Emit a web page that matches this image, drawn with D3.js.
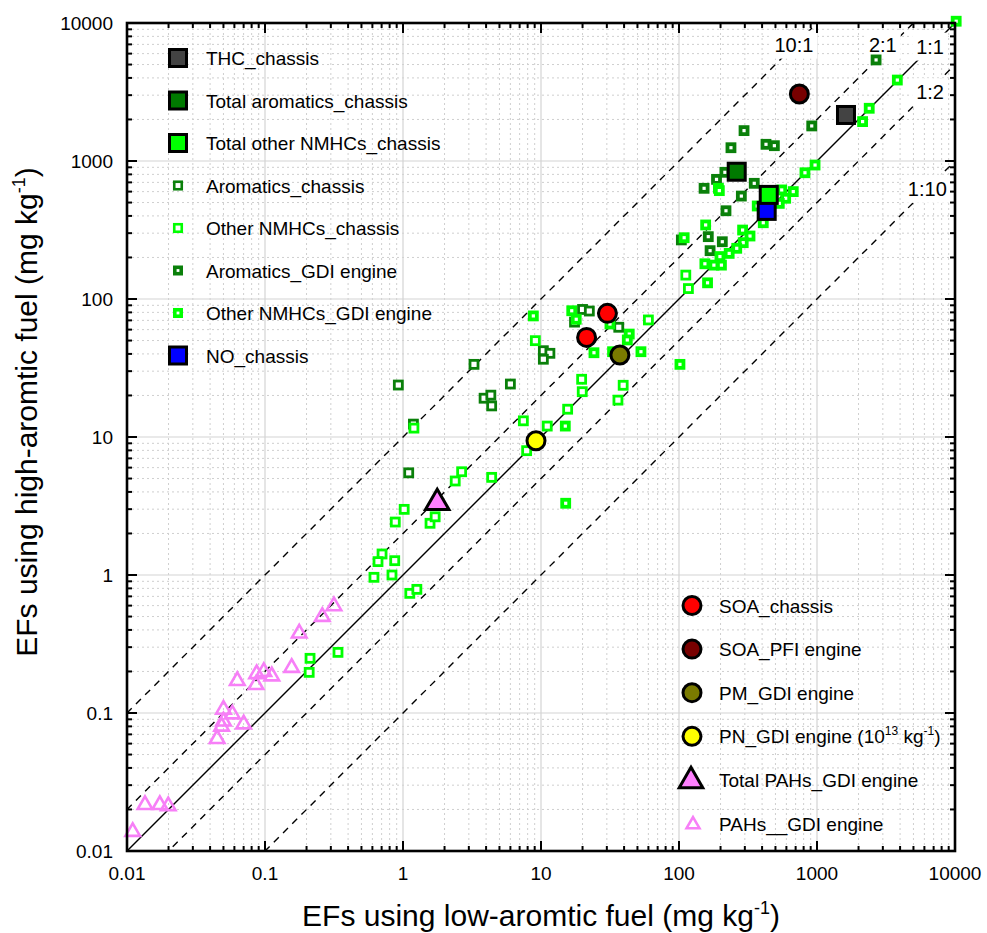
<!DOCTYPE html>
<html>
<head>
<meta charset="utf-8">
<script src="https://cdn.jsdelivr.net/npm/d3@7"></script>
<style>
  body { margin: 0; background: #fff; }
  text { font-family: "Liberation Sans", Arial, sans-serif; fill: #000; }
</style>
</head>
<body>
<div id="chart"></div>
<script>
// tick labels
var tickValues = [0.01, 0.1, 1, 10, 100, 1000, 10000];
var tickLabels = ["0.01", "0.1", "1", "10", "100", "1000", "10000"];

// EFs [low-aromatic, high-aromatic] (mg/kg)
var thcChassis = [[1622, 2155]];
var totalAromaticsChassis = [[262, 836]];
var totalOtherChassis = [[447, 568]];
var noChassis = [[432, 435]];
var aromaticsChassis = [[20, 84], [22.4, 81.8], [17.5, 68], [36.6, 62.4], [10.4, 42.2], [11.6, 40.4], [10.4, 36.6],
    [3.27, 33.6], [0.925, 23.8], [6.0, 24.2], [3.87, 19.1], [4.33, 20.1], [4.39, 16.8], [1.19, 12.4], [1.1, 5.5]];
var otherChassis = [[112, 149], [117, 119], [9.1, 49.9], [60, 70.5], [19.7, 26.2], [19.9, 21.3], [39.4, 23.7],
    [36.1, 18.5], [15.6, 15.9], [11.1, 12.0], [7.45, 13.1], [7.87, 7.96], [2.66, 5.6], [2.39, 4.8], [4.39, 5.1],
    [1.2, 11.6], [1.02, 2.99], [0.879, 2.42], [1.57, 2.37], [1.71, 2.64], [0.705, 1.42], [0.659, 1.25],
    [0.871, 1.27], [0.616, 0.962], [0.832, 1.0], [1.12, 0.736], [1.26, 0.787], [0.338, 0.275], [0.212, 0.249],
    [0.209, 0.197]];
var aromaticsGDI = [[2680, 5400], [916, 1795], [296, 1660], [238, 1248], [427, 1321], [491, 1291], [215, 828],
    [187, 736], [152, 634], [351, 689], [283, 557], [219, 436], [104, 268], [163, 283], [206, 260], [168, 224]];
var otherGDI = [[10200, 10300], [3820, 3860], [2390, 2410], [2140, 1930], [968, 935], [818, 822], [193, 634],
    [196, 610], [555, 617], [673, 600], [593, 537], [533, 493], [369, 472], [408, 357], [156, 344], [109, 278],
    [289, 316], [327, 286], [292, 256], [262, 233], [231, 214], [198, 203], [154, 180], [179, 176], [203, 176],
    [161, 131], [8.8, 75.4], [16.7, 82.2], [18, 71.3], [31.6, 65.9], [43.6, 55.7], [42.2, 50.5], [24.2, 40.8],
    [53, 41.5], [33, 41.5], [101.6, 33.6], [15, 12.0], [15.1, 3.31]];
var soaChassis = [[30.3, 78.7], [21.4, 52.7]];
var soaPFI = [[745, 3060]];
var pmGDI = [[37.3, 39.3]];
var pnGDI = [[9.2, 9.4]];
var totalPAHsGDI = [[1.77, 3.34]];
var pahsGDI = [[0.316, 0.596], [0.260, 0.499], [0.177, 0.378], [0.156, 0.213], [0.098, 0.199], [0.087, 0.192],
    [0.112, 0.185], [0.063, 0.171], [0.086, 0.160], [0.050, 0.106], [0.058, 0.098], [0.070, 0.083],
    [0.050, 0.087], [0.0485, 0.080], [0.045, 0.065], [0.0135, 0.0216], [0.0173, 0.0216], [0.0199, 0.0212],
    [0.011, 0.0138]];

// ratio lines (high / low) and their labels
var ratios = [10, 2, 1, 0.5, 0.1];
var ratioLabels = [
    {text: "10:1", x: 680, y: 6200},
    {text: "2:1", x: 3000, y: 6200},
    {text: "1:1", x: 6600, y: 6000},
    {text: "1:2", x: 6600, y: 2800},
    {text: "1:10", x: 6300, y: 560}
];

var legendLeft = ["THC_chassis", "Total aromatics_chassis", "Total other NMHCs_chassis", "Aromatics_chassis",
    "Other NMHCs_chassis", "Aromatics_GDI engine", "Other NMHCs_GDI engine", "NO_chassis"];
var legendRight = ["SOA_chassis", "SOA_PFI engine", "PM_GDI engine", "PN_GDI engine", "Total PAHs_GDI engine",
    "PAHs__GDI engine"];

var width = 987, height = 933;
var plotLeft = 127, plotRight = 955, plotTop = 23, plotBottom = 851;

var x = d3.scaleLog().domain([0.01, 10000]).range([plotLeft, plotRight]);
var y = d3.scaleLog().domain([0.01, 10000]).range([plotBottom, plotTop]);

var svg = d3.select("#chart").append("svg")
    .attr("width", width)
    .attr("height", height);

svg.append("defs").append("clipPath").attr("id", "plotClip")
    .append("rect").attr("x", plotLeft).attr("y", plotTop)
    .attr("width", plotRight - plotLeft).attr("height", plotBottom - plotTop);

// minor / major values
var minorValues = [];
tickValues.slice(0, -1).forEach(function (d) {
    for (var k = 2; k <= 9; k++) minorValues.push(d * k);
});

// 网格
var grid = svg.append("g");
grid.selectAll(".vminor").data(minorValues).enter().append("line")
    .attr("x1", function (d) { return x(d); }).attr("x2", function (d) { return x(d); })
    .attr("y1", plotTop).attr("y2", plotBottom)
    .style("stroke", "#cfcfcf").style("stroke-dasharray", "2,3").style("stroke-width", 1);
grid.selectAll(".hminor").data(minorValues).enter().append("line")
    .attr("y1", function (d) { return y(d); }).attr("y2", function (d) { return y(d); })
    .attr("x1", plotLeft).attr("x2", plotRight)
    .style("stroke", "#cfcfcf").style("stroke-dasharray", "2,3").style("stroke-width", 1);
grid.selectAll(".vmajor").data(tickValues.slice(1, -1)).enter().append("line")
    .attr("x1", function (d) { return x(d); }).attr("x2", function (d) { return x(d); })
    .attr("y1", plotTop).attr("y2", plotBottom)
    .style("stroke", "#d4d4d4").style("stroke-width", 1.2);
grid.selectAll(".hmajor").data(tickValues.slice(1, -1)).enter().append("line")
    .attr("y1", function (d) { return y(d); }).attr("y2", function (d) { return y(d); })
    .attr("x1", plotLeft).attr("x2", plotRight)
    .style("stroke", "#d4d4d4").style("stroke-width", 1.2);

// ratio lines
var line = d3.line().x(function (d) { return x(d[0]); }).y(function (d) { return y(d[1]); });
svg.append("g").attr("clip-path", "url(#plotClip)")
    .selectAll("path").data(ratios).enter().append("path")
    .attr("d", function (r) { return line([[0.0001, 0.0001 * r], [100000, 100000 * r]]); })
    .style("fill", "none").style("stroke", "#000").style("stroke-width", 1.4)
    .style("stroke-dasharray", function (r) { return r === 1 ? null : "7,6"; });

// ratio labels with white box
var rl = svg.append("g").selectAll("g").data(ratioLabels).enter().append("g");
rl.append("rect").attr("class", "lblbox").style("fill", "#fff");
rl.append("text")
    .attr("x", function (d) { return x(d.x); })
    .attr("y", function (d) { return y(d.y); })
    .attr("text-anchor", "middle")
    .style("font-size", "20px")
    .text(function (d) { return d.text; });
rl.each(function () {
    var b = d3.select(this).select("text").node().getBBox();
    d3.select(this).select("rect")
        .attr("x", b.x - 4).attr("y", b.y - 3)
        .attr("width", b.width + 8).attr("height", b.height + 6);
});

// marker helpers
function squares(data, size, fill, stroke, sw) {
    svg.append("g").selectAll("rect").data(data).enter().append("rect")
        .attr("x", function (d) { return x(d[0]) - size / 2; })
        .attr("y", function (d) { return y(d[1]) - size / 2; })
        .attr("width", size).attr("height", size)
        .style("fill", fill).style("stroke", stroke).style("stroke-width", sw);
}
function circles(data, fill) {
    svg.append("g").selectAll("circle").data(data).enter().append("circle")
        .attr("cx", function (d) { return x(d[0]); })
        .attr("cy", function (d) { return y(d[1]); })
        .attr("r", 9)
        .style("fill", fill).style("stroke", "#000").style("stroke-width", 3);
}
function triangles(data, size, fill, stroke, sw) {
    svg.append("g").selectAll("path").data(data).enter().append("path")
        .attr("d", d3.symbol().type(d3.symbolTriangle).size(size))
        .attr("transform", function (d) { return "translate(" + x(d[0]) + "," + y(d[1]) + ")"; })
        .style("fill", fill).style("stroke", stroke).style("stroke-width", sw)
        .style("stroke-linejoin", "miter");
}

var dkGreen = "#0a800a", ltGreen = "#00ff00", pink = "#f77ff7";

squares(aromaticsChassis, 8, "#fff", dkGreen, 2.8);
squares(aromaticsGDI, 7, "#fff", dkGreen, 3.8);
squares(otherChassis, 8, "#fff", ltGreen, 2.8);
squares(otherGDI, 7, "#fff", ltGreen, 3.8);
triangles(pahsGDI, 92, "none", pink, 2.6);

squares(thcChassis, 17, "#434343", "#000", 3);
squares(totalAromaticsChassis, 17, "#007a00", "#000", 3);
squares(noChassis, 17, "#0000ff", "#000", 3);
squares(totalOtherChassis, 17, "#00ff00", "#000", 3);
circles(soaPFI, "#780000");
circles(soaChassis, "#ff0000");
circles(pmGDI, "#7a7a00");
circles(pnGDI, "#ffff00");
triangles(totalPAHsGDI, 240, "#ff80ff", "#000", 3);

// 坐标轴框和刻度
var axes = svg.append("g");
var major = 10, minor = 5;
tickValues.concat(minorValues).forEach(function (d) {
    var len = tickValues.indexOf(d) >= 0 ? major : minor;
    var px = x(d), py = y(d);
    axes.append("line").attr("x1", px).attr("x2", px).attr("y1", plotBottom).attr("y2", plotBottom - len);
    axes.append("line").attr("x1", px).attr("x2", px).attr("y1", plotTop).attr("y2", plotTop + len);
    axes.append("line").attr("y1", py).attr("y2", py).attr("x1", plotLeft).attr("x2", plotLeft + len);
    axes.append("line").attr("y1", py).attr("y2", py).attr("x1", plotRight).attr("x2", plotRight - len);
});
axes.selectAll("line").style("stroke", "#000").style("stroke-width", 2);
axes.append("rect").attr("x", plotLeft).attr("y", plotTop)
    .attr("width", plotRight - plotLeft).attr("height", plotBottom - plotTop)
    .style("fill", "none").style("stroke", "#000").style("stroke-width", 2.6);

svg.append("g").selectAll("text").data(tickValues).enter().append("text")
    .attr("x", function (d) { return x(d); })
    .attr("y", plotBottom + 29)
    .attr("text-anchor", "middle")
    .style("font-size", "19px")
    .text(function (d, i) { return tickLabels[i]; });
svg.append("g").selectAll("text").data(tickValues).enter().append("text")
    .attr("x", plotLeft - 14)
    .attr("y", function (d) { return y(d) + 7; })
    .attr("text-anchor", "end")
    .style("font-size", "19px")
    .text(function (d, i) { return tickLabels[i]; });

// axis titles
function unitTitle(sel, label) {
    sel.style("font-size", "30px").attr("text-anchor", "middle");
    sel.append("tspan").text(label + " (mg kg");
    sel.append("tspan").attr("dy", -12).style("font-size", "18px").text("-1");
    sel.append("tspan").attr("dy", 12).text(")");
}
unitTitle(svg.append("text").attr("x", (plotLeft + plotRight) / 2).attr("y", 926), "EFs using low-aromtic fuel");
unitTitle(svg.append("text").attr("transform", "translate(37,412)rotate(-90)"), "EFs using high-aromtic fuel");

// legend (left top)
var lg1 = svg.append("g");
var sym1 = [
    {t: "big", fill: "#434343"}, {t: "big", fill: "#007a00"}, {t: "big", fill: "#00ff00"},
    {t: "chassis", c: dkGreen}, {t: "chassis", c: ltGreen}, {t: "gdi", c: dkGreen}, {t: "gdi", c: ltGreen},
    {t: "big", fill: "#0000ff"}
];
legendLeft.forEach(function (name, i) {
    var cy = 58 + i * 42.5, cx = 178, s = sym1[i];
    var r = lg1.append("rect");
    if (s.t === "big") {
        r.attr("x", cx - 8.5).attr("y", cy - 8.5).attr("width", 17).attr("height", 17)
            .style("fill", s.fill).style("stroke", "#000").style("stroke-width", 3);
    } else if (s.t === "chassis") {
        r.attr("x", cx - 3.75).attr("y", cy - 3.75).attr("width", 7.5).attr("height", 7.5)
            .style("fill", "#fff").style("stroke", s.c).style("stroke-width", 2.6);
    } else {
        r.attr("x", cx - 3.2).attr("y", cy - 3.2).attr("width", 6.4).attr("height", 6.4)
            .style("fill", "#fff").style("stroke", s.c).style("stroke-width", 3.6);
    }
    lg1.append("text").attr("x", 206).attr("y", cy + 7).style("font-size", "19px").text(name);
});

// legend (right bottom)
var lg2 = svg.append("g");
var circleFills = ["#ff0000", "#780000", "#7a7a00", "#ffff00"];
legendRight.forEach(function (name, i) {
    var cy = 605.5 + i * 43.6, cx = 692;
    if (i < 4) {
        lg2.append("circle").attr("cx", cx).attr("cy", cy).attr("r", 9)
            .style("fill", circleFills[i]).style("stroke", "#000").style("stroke-width", 3);
    } else if (i === 4) {
        lg2.append("path").attr("d", d3.symbol().type(d3.symbolTriangle).size(240))
            .attr("transform", "translate(" + (cx - 1) + "," + (cy + 1) + ")")
            .style("fill", "#ff80ff").style("stroke", "#000").style("stroke-width", 3);
    } else {
        lg2.append("path").attr("d", d3.symbol().type(d3.symbolTriangle).size(72))
            .attr("transform", "translate(" + (cx + 1) + "," + (cy + 1) + ")")
            .style("fill", "none").style("stroke", pink).style("stroke-width", 2.6);
    }
    var t = lg2.append("text").attr("x", 719).attr("y", cy + 7).style("font-size", "19px");
    if (name === "PN_GDI engine") {
        t.append("tspan").text("PN_GDI engine (10");
        t.append("tspan").attr("dy", -8).style("font-size", "12px").text("13");
        t.append("tspan").attr("dy", 8).text(" kg");
        t.append("tspan").attr("dy", -8).style("font-size", "12px").text("-1");
        t.append("tspan").attr("dy", 8).text(")");
    } else {
        t.text(name);
    }
});
</script>
</body>
</html>
